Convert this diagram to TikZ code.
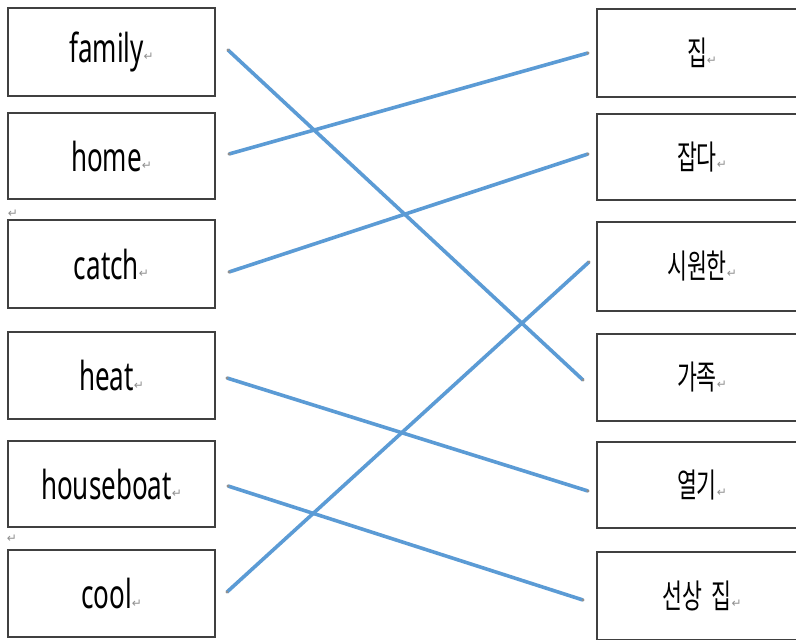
\documentclass[tikz,border=0pt]{standalone}
\usepackage{fontspec}
\newfontfamily\latfont[FakeStretch=0.65]{Noto Sans}
\newfontfamily\korfont[FakeStretch=0.65]{Noto Sans CJK KR}
\newfontfamily\symfont{DejaVu Sans}
\definecolor{boxgray}{HTML}{404040}
\definecolor{linkblue}{HTML}{5B9BD5}
\definecolor{markgray}{HTML}{909090}
\newcommand{\pmark}{{\symfont\fontsize{9}{9}\selectfont\color{markgray}\raisebox{1pt}{↵}}}
\tikzset{
  wordbox/.style={draw=boxgray, line width=1.5pt, minimum width=155.25pt, minimum height=65pt, inner sep=0pt, fill=white},
  latin/.style={font=\latfont\fontsize{30}{30}\selectfont},
  korean/.style={font=\korfont\fontsize{25}{25}\selectfont},
  link/.style={draw=linkblue, line width=2.7pt},
  enddot/.style={fill=markgray, draw=none}
}
\begin{document}
\begin{tikzpicture}[x=0.75pt,y=-0.75pt]
\useasboundingbox[fill=white] (0,0) rectangle (796,639);
% left boxes
\node[wordbox,latin,minimum height=66pt] (family) at (111.5,51.5) {family\pmark};
\node[wordbox,latin,minimum height=64.5pt] (home) at (111.5,156) {home\pmark};
\node[wordbox,latin,minimum height=66pt] (catch) at (111.5,264) {catch\pmark};
\node[wordbox,latin,minimum height=65pt] (heat) at (111.5,375.5) {heat\pmark};
\node[wordbox,latin,minimum height=64.5pt] (houseboat) at (111.5,484) {houseboat\pmark};
\node[wordbox,latin,minimum height=65pt] (cool) at (111.5,593.5) {cool\pmark};
% stray paragraph marks
\node[inner sep=0pt] (m1) at (13,214) {\pmark};
\node[inner sep=0pt] (m2) at (12,539) {\pmark};
% right boxes
\node[wordbox,korean,minimum width=157.5pt,minimum height=66pt] (jip) at (702,53) {집\pmark};
\node[wordbox,korean,minimum width=157.5pt,minimum height=64.5pt] (japda) at (702,157) {잡다\pmark};
\node[wordbox,korean,minimum width=157.5pt,minimum height=66.5pt] (siwon) at (702,266.5) {시원한\pmark};
\node[wordbox,korean,minimum width=157.5pt,minimum height=65pt] (gajok) at (702,377.5) {가족\pmark};
\node[wordbox,korean,minimum width=157.5pt,minimum height=64.5pt] (yeolgi) at (702,485) {열기\pmark};
\node[wordbox,korean,minimum width=157.5pt,minimum height=66pt] (seonsang) at (702,596) {선상\hspace{7pt}집\pmark};
% connector end points
\coordinate (familyL) at (228,50);
\coordinate (homeL) at (229,154);
\coordinate (catchL) at (229,272);
\coordinate (heatL) at (227,378);
\coordinate (houseboatL) at (228,486);
\coordinate (coolL) at (227,592);
\coordinate (jipR) at (588,53);
\coordinate (japdaR) at (588,154);
\coordinate (siwonR) at (589,262);
\coordinate (gajokR) at (583,380);
\coordinate (yeolgiR) at (588,491);
\coordinate (seonsangR) at (583,600);
% connectors
\draw[link] (familyL) -- (gajokR);
\draw[link] (homeL) -- (jipR);
\draw[link] (catchL) -- (japdaR);
\draw[link] (heatL) -- (yeolgiR);
\draw[link] (houseboatL) -- (seonsangR);
\draw[link] (coolL) -- (siwonR);
% end dots
\foreach \p in {familyL,homeL,catchL,heatL,houseboatL,coolL,jipR,japdaR,siwonR,gajokR,yeolgiR,seonsangR}
  \fill[enddot] (\p) circle (1.3pt);
\end{tikzpicture}
\end{document}
